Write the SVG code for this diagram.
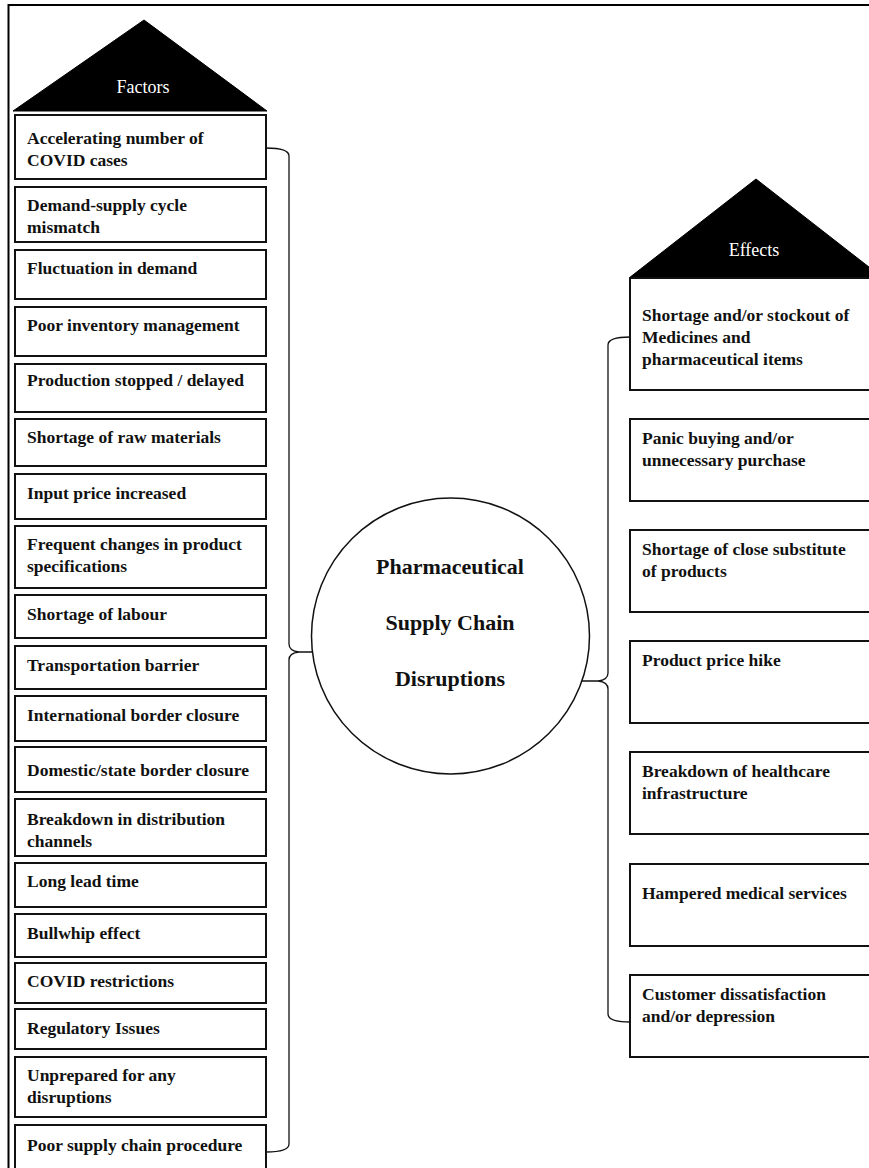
<svg xmlns="http://www.w3.org/2000/svg" width="869" height="1168" viewBox="0 0 869 1168">
<style>
.frame{fill:none;stroke:#000;stroke-width:2}
.box{fill:#fff;stroke:#111;stroke-width:2}
.tri{fill:#000;stroke:#000;stroke-width:1}
.head{font-family:"Liberation Serif","Times New Roman",serif;font-size:18px;fill:#fff;text-anchor:middle}
.t{font-family:"Liberation Serif","Times New Roman",serif;font-size:17.5px;font-weight:bold;fill:#111}
.ct{font-family:"Liberation Serif","Times New Roman",serif;font-size:22px;font-weight:bold;fill:#111;text-anchor:middle}
.br{fill:none;stroke:#111;stroke-width:1.3}
.circ{fill:#fff;stroke:#111;stroke-width:1.5}
</style>
<rect x="0" y="0" width="869" height="1168" fill="#fff"/>
<path class="frame" d="M8.5,1170 V5 H875"/>

<g id="connectors">
<path class="br" d="M266,148 Q289,148 289,156 V644 Q289,651 299,652 Q289,653 289,660 V1144 Q289,1152 266,1152 M299,652 H313"/>
<path class="br" d="M630,337 Q608,337 608,345 V673 Q608,680 598,681 Q608,682 608,689 V1014 Q608,1022 630,1022 M598,681 H582"/>
</g>

<g id="factors-header">
<polygon class="tri" points="144,20 13,111 267,111"/>
<text class="head" x="143" y="93">Factors</text>
</g>

<g id="f1"><rect class="box" x="15" y="115" width="251" height="64"/><text class="t" x="27" y="144">Accelerating number of</text><text class="t" x="27" y="166">COVID cases</text></g>
<g id="f2"><rect class="box" x="15" y="187" width="251" height="55"/><text class="t" x="27" y="211">Demand-supply cycle</text><text class="t" x="27" y="233">mismatch</text></g>
<g id="f3"><rect class="box" x="15" y="250" width="251" height="49"/><text class="t" x="27" y="274">Fluctuation in demand</text></g>
<g id="f4"><rect class="box" x="15" y="307" width="251" height="49"/><text class="t" x="27" y="331">Poor inventory management</text></g>
<g id="f5"><rect class="box" x="15" y="364" width="251" height="48"/><text class="t" x="27" y="386">Production stopped / delayed</text></g>
<g id="f6"><rect class="box" x="15" y="419" width="251" height="47"/><text class="t" x="27" y="443">Shortage of raw materials</text></g>
<g id="f7"><rect class="box" x="15" y="474" width="251" height="45"/><text class="t" x="27" y="499">Input price increased</text></g>
<g id="f8"><rect class="box" x="15" y="526" width="251" height="62"/><text class="t" x="27" y="550">Frequent changes in product</text><text class="t" x="27" y="572">specifications</text></g>
<g id="f9"><rect class="box" x="15" y="595" width="251" height="43"/><text class="t" x="27" y="620">Shortage of labour</text></g>
<g id="f10"><rect class="box" x="15" y="646" width="251" height="43"/><text class="t" x="27" y="671">Transportation barrier</text></g>
<g id="f11"><rect class="box" x="15" y="696" width="251" height="45"/><text class="t" x="27" y="721">International border closure</text></g>
<g id="f12"><rect class="box" x="15" y="747" width="251" height="45"/><text class="t" x="27" y="776">Domestic/state border closure</text></g>
<g id="f13"><rect class="box" x="15" y="799" width="251" height="57"/><text class="t" x="27" y="825">Breakdown in distribution</text><text class="t" x="27" y="847">channels</text></g>
<g id="f14"><rect class="box" x="15" y="863" width="251" height="44"/><text class="t" x="27" y="887">Long lead time</text></g>
<g id="f15"><rect class="box" x="15" y="914" width="251" height="43"/><text class="t" x="27" y="939">Bullwhip effect</text></g>
<g id="f16"><rect class="box" x="15" y="963" width="251" height="40"/><text class="t" x="27" y="987">COVID restrictions</text></g>
<g id="f17"><rect class="box" x="15" y="1009" width="251" height="40"/><text class="t" x="27" y="1034">Regulatory Issues</text></g>
<g id="f18"><rect class="box" x="15" y="1057" width="251" height="60"/><text class="t" x="27" y="1081">Unprepared for any</text><text class="t" x="27" y="1103">disruptions</text></g>
<g id="f19"><rect class="box" x="15" y="1125" width="251" height="50"/><text class="t" x="27" y="1151">Poor supply chain procedure</text></g>

<g id="center">
<ellipse class="circ" cx="450.5" cy="636" rx="139" ry="138"/>
<text class="ct" x="450" y="574">Pharmaceutical</text>
<text class="ct" x="450" y="630">Supply Chain</text>
<text class="ct" x="450" y="686">Disruptions</text>
</g>

<g id="effects-header">
<polygon class="tri" points="756,179 629,278 883,278"/>
<text class="head" x="754" y="256">Effects</text>
</g>

<g id="e1"><rect class="box" x="630" y="278" width="260" height="112"/><text class="t" x="642" y="321">Shortage and/or stockout of</text><text class="t" x="642" y="343">Medicines and</text><text class="t" x="642" y="365">pharmaceutical items</text></g>
<g id="e2"><rect class="box" x="630" y="419" width="260" height="82"/><text class="t" x="642" y="444">Panic buying and/or</text><text class="t" x="642" y="466">unnecessary purchase</text></g>
<g id="e3"><rect class="box" x="630" y="530" width="260" height="82"/><text class="t" x="642" y="555">Shortage of close substitute</text><text class="t" x="642" y="577">of products</text></g>
<g id="e4"><rect class="box" x="630" y="641" width="260" height="82"/><text class="t" x="642" y="666">Product price hike</text></g>
<g id="e5"><rect class="box" x="630" y="752" width="260" height="82"/><text class="t" x="642" y="777">Breakdown of healthcare</text><text class="t" x="642" y="799">infrastructure</text></g>
<g id="e6"><rect class="box" x="630" y="864" width="260" height="82"/><text class="t" x="642" y="899">Hampered medical services</text></g>
<g id="e7"><rect class="box" x="630" y="975" width="260" height="82"/><text class="t" x="642" y="1000">Customer dissatisfaction</text><text class="t" x="642" y="1022">and/or depression</text></g>
</svg>
